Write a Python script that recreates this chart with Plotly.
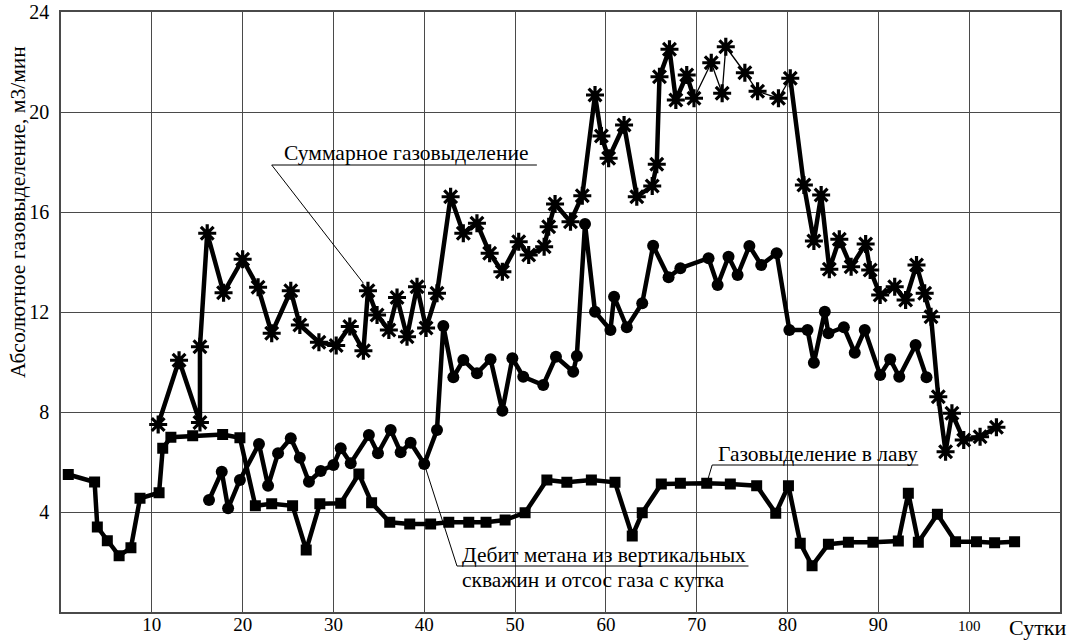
import plotly.graph_objects as go

# --- Газовыделение в лаву (squares)
lava_x = [0.8, 3.7, 4.0, 5.1, 6.4, 7.7, 8.7, 10.8, 11.2, 12.1, 14.5, 17.8, 19.7, 21.4, 23.2,
          25.5, 27.0, 28.5, 30.8, 32.8, 34.2, 36.2, 38.4, 40.7, 42.7, 44.9, 46.8, 48.9, 51.1,
          53.5, 55.7, 58.4, 61.0, 62.9, 64.0, 66.1, 68.2, 71.1, 73.7, 76.6, 78.7, 80.1, 81.4,
          82.7, 84.5, 86.7, 89.4, 92.2, 93.3, 94.4, 96.5, 98.5, 100.8, 102.8, 105.0]
lava_y = [5.5, 5.2, 3.4, 2.85, 2.25, 2.57, 4.55, 4.77, 6.55, 6.99, 7.05, 7.1, 6.97, 4.25, 4.33,
          4.25, 2.48, 4.33, 4.35, 5.52, 4.37, 3.59, 3.52, 3.52, 3.59, 3.59, 3.59, 3.68, 3.97,
          5.28, 5.19, 5.28, 5.19, 3.04, 3.97, 5.12, 5.15, 5.15, 5.12, 5.05, 3.95, 5.05, 2.75,
          1.85, 2.71, 2.79, 2.79, 2.84, 4.75, 2.79, 3.91, 2.81, 2.81, 2.77, 2.81]

# --- Дебит метана из вертикальных скважин и отсос газа с кутка (circles)
debit_x = [16.3, 17.7, 18.4, 19.7, 21.8, 22.8, 23.9, 25.3, 26.3, 27.3, 28.6, 30.0, 30.8, 31.9,
           33.9, 34.9, 36.3, 37.4, 38.5, 40.0, 41.4, 42.1, 43.2, 44.3, 45.8, 47.3, 48.6, 49.7,
           50.9, 53.1, 54.5, 56.4, 56.8, 57.7, 58.8, 60.5, 60.9, 62.3, 64.0, 65.2, 66.9, 68.2,
           71.3, 72.3, 73.5, 74.5, 75.8, 77.1, 78.8, 80.2, 82.2, 82.9, 84.1, 84.5, 86.2, 87.4,
           88.5, 90.2, 91.3, 92.3, 94.1, 95.3]
debit_y = [4.48, 5.61, 4.15, 5.28, 6.72, 5.05, 6.35, 6.95, 6.17, 5.21, 5.64, 5.88, 6.55, 5.95,
           7.08, 6.35, 7.28, 6.39, 6.77, 5.92, 7.28, 11.44, 9.39, 10.08, 9.55, 10.11, 8.05, 10.15,
           9.41, 9.08, 10.21, 9.61, 10.24, 15.52, 12.01, 11.28, 12.61, 11.39, 12.35, 14.65, 13.39,
           13.75, 14.15, 13.08, 14.21, 13.48, 14.64, 13.88, 14.35, 11.28, 11.28, 9.97, 12.01,
           11.15, 11.39, 10.37, 11.28, 9.48, 10.11, 9.41, 10.68, 9.39]

# --- Суммарное газовыделение (asterisks)
sum_x = [10.7, 13.0, 15.3, 15.3, 16.1, 17.9, 20.0, 21.7, 23.2, 25.3, 26.3, 28.4, 30.3, 31.8,
         33.3, 33.8, 34.8, 36.1, 37.0, 38.1, 39.2, 40.2, 41.4, 42.9, 44.3, 45.8, 47.2, 48.6,
         50.4, 51.5, 53.2, 53.7, 54.4, 56.1, 57.4, 58.8, 59.5, 60.3, 62.0, 63.4, 65.1, 65.6,
         65.9, 67.0, 67.7, 68.9, 69.7, 71.6, 72.8, 73.2, 75.3, 76.7, 79.0, 80.3, 81.8, 82.9,
         83.7, 84.6, 85.7, 87.0, 88.6, 89.1, 90.2, 91.8, 93.0, 94.2, 95.1, 95.8, 96.6, 97.4,
         98.1, 99.4, 101.2, 103.0]
sum_y = [7.5, 10.07, 7.58, 10.61, 15.15, 12.77, 14.11, 12.99, 11.15, 12.85, 11.48, 10.79, 10.66,
         11.42, 10.45, 12.85, 11.88, 11.28, 12.58, 11.01, 13.01, 11.36, 12.75, 16.61, 15.15,
         15.55, 14.35, 13.61, 14.81, 14.28, 14.61, 15.41, 16.32, 15.61, 16.65, 20.68, 19.04,
         18.15, 19.48, 16.61, 17.04, 17.91, 21.41, 22.51, 20.48, 21.48, 20.55, 21.97, 20.75,
         22.61, 21.57, 20.83, 20.55, 21.35, 17.08, 14.84, 16.68, 13.71, 14.91, 13.81, 14.72,
         13.68, 12.68, 13.01, 12.48, 13.88, 12.75, 11.81, 8.61, 6.41, 7.95, 6.88, 7.01, 7.39]

# part of the summary curve drawn with a thin line
thin_from, thin_to = 46, 53

x_ticks = [10, 20, 30, 40, 50, 60, 70, 80, 90, 100]
x_ticktext = ["10", "20", "30", "40", "50", "60", "70", "80", "90",
              "<span style='font-size:15px'>100</span>"]
y_ticks = [4, 8, 12, 16, 20, 24]

FONT = "'Liberation Serif', 'Times New Roman', Times, serif"
INK = "black"
GRID = "#4a4a4a"

fig = go.Figure()

# lines
fig.add_trace(go.Scatter(x=lava_x, y=lava_y, mode="lines",
                         line=dict(color=INK, width=4.5), hoverinfo="skip"))
fig.add_trace(go.Scatter(x=debit_x, y=debit_y, mode="lines",
                         line=dict(color=INK, width=4.5), hoverinfo="skip"))
fig.add_trace(go.Scatter(x=sum_x[:thin_from + 1], y=sum_y[:thin_from + 1], mode="lines",
                         line=dict(color=INK, width=4.5), hoverinfo="skip"))
fig.add_trace(go.Scatter(x=sum_x[thin_from:thin_to + 1], y=sum_y[thin_from:thin_to + 1],
                         mode="lines", line=dict(color=INK, width=1.3), hoverinfo="skip"))
fig.add_trace(go.Scatter(x=sum_x[thin_to:], y=sum_y[thin_to:], mode="lines",
                         line=dict(color=INK, width=4.5), hoverinfo="skip"))

# markers
fig.add_trace(go.Scatter(x=lava_x, y=lava_y, mode="markers",
                         marker=dict(symbol="square", size=11, color=INK)))
fig.add_trace(go.Scatter(x=debit_x, y=debit_y, mode="markers",
                         marker=dict(symbol="circle", size=12, color=INK)))
fig.add_trace(go.Scatter(x=sum_x, y=sum_y, mode="markers",
                         marker=dict(symbol="asterisk-open", size=15, color=INK,
                                     line=dict(color=INK, width=3.2))))

# callouts
callout_line = dict(color=INK, width=1)
shapes = [
    # Суммарное газовыделение
    dict(type="line", x0=23.2, y0=17.88, x1=52.4, y1=17.88, line=callout_line),
    dict(type="line", x0=23.2, y0=17.88, x1=sum_x[15] - 0.5, y1=sum_y[15] + 0.3, line=callout_line),
    # Газовыделение в лаву
    dict(type="line", x0=71.7, y0=5.88, x1=94.4, y1=5.88, line=callout_line),
    dict(type="line", x0=71.7, y0=5.88, x1=lava_x[37], y1=lava_y[37], line=callout_line),
    # Дебит метана ...
    dict(type="line", x0=43.6, y0=1.84, x1=75.7, y1=1.84, line=callout_line),
    dict(type="line", x0=43.6, y0=1.84, x1=debit_x[19], y1=debit_y[19], line=callout_line),
]

text_font = dict(family=FONT, size=21.5, color=INK)
annotations = [
    dict(x=24.3, y=18.35, xref="x", yref="y", text="Суммарное газовыделение",
         showarrow=False, xanchor="left", yanchor="middle", font=text_font),
    dict(x=72.1, y=6.32, xref="x", yref="y", text="Газовыделение в лаву",
         showarrow=False, xanchor="left", yanchor="middle", font=text_font),
    dict(x=43.9, y=2.3, xref="x", yref="y", text="Дебит метана из вертикальных",
         showarrow=False, xanchor="left", yanchor="middle", font=text_font),
    dict(x=43.9, y=1.3, xref="x", yref="y", text="скважин и отсос газа с кутка",
         showarrow=False, xanchor="left", yanchor="middle", font=text_font),
    dict(x=0, y=16.0, xref="paper", yref="y", xshift=-43,
         text="Абсолютное газовыделение, м3/мин", textangle=-90,
         showarrow=False, xanchor="center", yanchor="middle", font=text_font),
    dict(x=1.0, y=0, xref="paper", yref="paper", xshift=-23, yshift=-15,
         text="Сутки", showarrow=False, xanchor="center", yanchor="middle",
         font=dict(family=FONT, size=22, color=INK)),
]

fig.update_layout(
    width=1078, height=643,
    margin=dict(l=61, r=18, t=12, b=31, autoexpand=False),
    paper_bgcolor="white", plot_bgcolor="white",
    showlegend=False,
    font=dict(family=FONT, size=18, color=INK),
    shapes=shapes, annotations=annotations,
    xaxis=dict(range=[0, 110], tickvals=x_ticks, ticktext=x_ticktext, automargin=False,
               showgrid=True, gridcolor=GRID, gridwidth=1.2, zeroline=False,
               showline=True, linecolor=GRID, linewidth=1.5, mirror=True,
               ticks="", ticklabelstandoff=-6, tickfont=dict(family=FONT, size=19)),
    yaxis=dict(range=[0, 24], tickvals=y_ticks, automargin=False,
               showgrid=True, gridcolor=GRID, gridwidth=1.2, zeroline=False,
               showline=True, linecolor=GRID, linewidth=1.5, mirror=True,
               ticks="", ticklabelstandoff=6, tickfont=dict(family=FONT, size=20)),
)

fig.write_html("out.html")
